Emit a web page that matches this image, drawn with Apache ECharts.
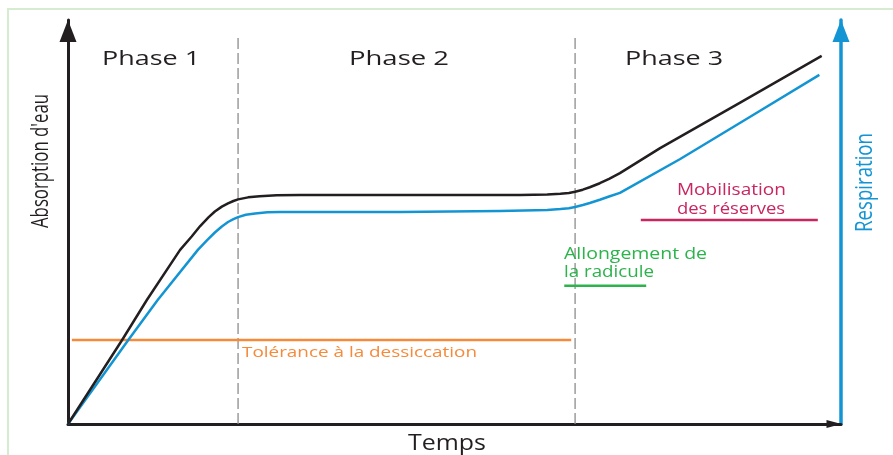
<!DOCTYPE html>
<html>
<head>
<meta charset="utf-8">
<script src="https://cdn.jsdelivr.net/npm/echarts@6/dist/echarts.min.js"></script>
<style>
html,body{margin:0;padding:0;background:#ffffff;}
#c{width:893px;height:455px;}
</style>
</head>
<body>
<div id="c"></div>
<script>
// ---------- data (schematic units: time 0-100, level 0-100) ----------
const absorptionX = [0, 7.0, 10.2, 14.5, 16.0, 17.1, 18.2, 19.0, 19.9, 20.7, 21.4, 22.0, 23.3, 24.8, 27.0, 30.0, 43.0, 58.5, 62.0, 63.7, 64.8, 65.6, 66.6, 67.5, 68.8, 70.0, 71.4, 76.6, 86.9, 97.5];
const absorptionY = [0, 20.8, 30.7, 43.1, 46.4, 49.0, 51.2, 52.6, 53.8, 54.6, 55.2, 55.6, 56.1, 56.4, 56.6, 56.7, 56.7, 56.7, 56.8, 57.0, 57.2, 57.5, 58.0, 58.6, 59.6, 60.7, 62.1, 68.3, 79.5, 91.1];
const respirationX = [0, 7.8, 11.6, 16.8, 18.0, 19.0, 19.9, 20.7, 21.4, 22.0, 23.0, 24.2, 25.8, 27.4, 30.0, 43.0, 55.9, 62.0, 63.7, 64.8, 65.6, 66.6, 67.5, 68.8, 70.0, 71.4, 79.2, 88.2, 97.2];
const respirationY = [0, 20.8, 30.7, 43.1, 45.5, 47.4, 48.9, 50.0, 50.7, 51.2, 51.8, 52.1, 52.4, 52.5, 52.5, 52.5, 52.7, 53.0, 53.2, 53.4, 53.7, 54.2, 54.7, 55.5, 56.3, 57.2, 65.6, 76.0, 86.4];
const phaseBoundaryX = [22.0, 65.6];
const phaseBoundaryTop = 95.8;
const phaseLabels = ['Phase 1', 'Phase 2', 'Phase 3'];
const toleranceX = [0.5, 65.1];
const toleranceY = 20.8;
const radiculeX = [64.2, 74.8];
const radiculeY = 34.2;
const reservesX = [74.1, 97.0];
const reservesY = 50.5;
const toleranceLabel = 'Tolérance à la dessiccation';
const radiculeLabel = ['Allongement de', 'la radicule'];
const reservesLabel = ['Mobilisation', 'des réserves'];
const xTitle = 'Temps';
const yLeftTitle = "Absorption d'eau";
const yRightTitle = 'Respiration';

// ---------- styles ----------
const BLACK = '#231f20';
const BLUE = '#1495d3';
const ORANGE = '#f58a3b';
const GREEN = '#2cb34c';
const CRIMSON = '#c92560';
const GREY = '#8c8c8c';
const FONT = 'Open Sans';

const pairs = (xs, ys) => xs.map((x, i) => [x, ys[i]]);
const hLine = (xs, y, color) => ({
  type: 'line', data: [[xs[0], y], [xs[1], y]], symbol: 'none', silent: true,
  lineStyle: { color: color, width: 2.5 }, z: 3
});

const series = [
  hLine(toleranceX, toleranceY, ORANGE),
  hLine(radiculeX, radiculeY, GREEN),
  hLine(reservesX, reservesY, CRIMSON),
  ...phaseBoundaryX.map(x => ({
    type: 'line', data: [[x, 0], [x, phaseBoundaryTop]], symbol: 'none', silent: true,
    lineStyle: { color: GREY, width: 1.3, type: [11, 4] }, z: 2
  })),
  {
    name: 'Respiration', type: 'line', data: pairs(respirationX, respirationY),
    symbol: 'none', smooth: false,
    lineStyle: { color: BLUE, width: 2.5, join: 'round' }, z: 4
  },
  {
    name: "Absorption d'eau", type: 'line', data: pairs(absorptionX, absorptionY),
    symbol: 'none', smooth: false,
    lineStyle: { color: BLACK, width: 2.5, join: 'round' }, z: 4
  }
];

const option = {
  animation: false,
  backgroundColor: '#ffffff',
  grid: { left: 68, right: 52, top: 20, bottom: 31, containLabel: false },
  xAxis: {
    type: 'value', min: 0, max: 100,
    axisLine: { show: true, lineStyle: { color: BLACK, width: 3 }, symbol: ['none', 'triangle'], symbolSize: [8, 15], symbolOffset: [0, -7] },
    axisTick: { show: false }, axisLabel: { show: false }, splitLine: { show: false }
  },
  yAxis: [
    {
      type: 'value', min: 0, max: 100, position: 'left',
      axisLine: { show: true, onZero: false, lineStyle: { color: BLACK, width: 3 }, symbol: ['none', 'triangle'], symbolSize: [17, 22], symbolOffset: [0, -11] },
      axisTick: { show: false }, axisLabel: { show: false }, splitLine: { show: false }
    },
    {
      type: 'value', min: 0, max: 100, position: 'right',
      axisLine: { show: true, onZero: false, lineStyle: { color: BLUE, width: 3.5 }, symbol: ['none', 'triangle'], symbolSize: [17, 22], symbolOffset: [0, -11] },
      axisTick: { show: false }, axisLabel: { show: false }, splitLine: { show: false }
    }
  ],
  series: series
};

const chart = echarts.init(document.getElementById('c'));
chart.setOption(option);

// ---------- text annotations, anchored in data coordinates ----------
const mctx = document.createElement('canvas').getContext('2d');
function measure(text, size) {
  mctx.font = size + 'px "' + FONT + '"';
  return mctx.measureText(text).width;
}
const annotations = [
  { text: phaseLabels[0], at: [10.74, 90.35], size: 20, len: 98, color: BLACK, align: 'center' },
  { text: phaseLabels[1], at: [42.82, 90.35], size: 20, len: 100, color: BLACK, align: 'center' },
  { text: phaseLabels[2], at: [78.40, 90.35], size: 20, len: 98, color: BLACK, align: 'center' },
  { text: toleranceLabel, at: [37.71, 17.57], size: 15, len: 235, color: ORANGE, align: 'center' },
  { text: radiculeLabel[0], at: [64.17, 42.08], size: 16, len: 143, color: GREEN, align: 'left' },
  { text: radiculeLabel[1], at: [64.17, 37.62], size: 16, len: 90, color: GREEN, align: 'left' },
  { text: reservesLabel[0], at: [85.83, 57.92], size: 16, len: 109, color: CRIMSON, align: 'center' },
  { text: reservesLabel[1], at: [85.77, 53.22], size: 16, len: 108, color: CRIMSON, align: 'center' },
  { text: xTitle, at: [49.03, -4.83], size: 22, len: 78, color: BLACK, align: 'center' },
  { text: yLeftTitle, at: [-3.45, 65.10], size: 24, len: 134, color: BLACK, align: 'center', rot: Math.PI / 2 },
  { text: yRightTitle, at: [103.10, 59.78], size: 24, len: 99, color: BLUE, align: 'center', rot: Math.PI / 2 }
];

const graphic = [
  {
    type: 'rect', silent: true, z: -10,
    shape: { x: 8, y: 9, width: 1000, height: 1000 },
    style: { fill: 'none', stroke: '#d6ecd1', lineWidth: 2 }
  }
].concat(annotations.map(a => {
  const p = chart.convertToPixel({ gridIndex: 0 }, a.at);
  return {
    type: 'text', silent: true, z: 10,
    x: p[0], y: p[1], rotation: a.rot || 0,
    scaleX: a.len / measure(a.text, a.size), scaleY: 1,
    style: {
      text: a.text, fontSize: a.size, fontFamily: FONT, fill: a.color,
      align: a.align, verticalAlign: 'middle'
    }
  };
}));

chart.setOption({ graphic: graphic });
</script>
</body>
</html>
